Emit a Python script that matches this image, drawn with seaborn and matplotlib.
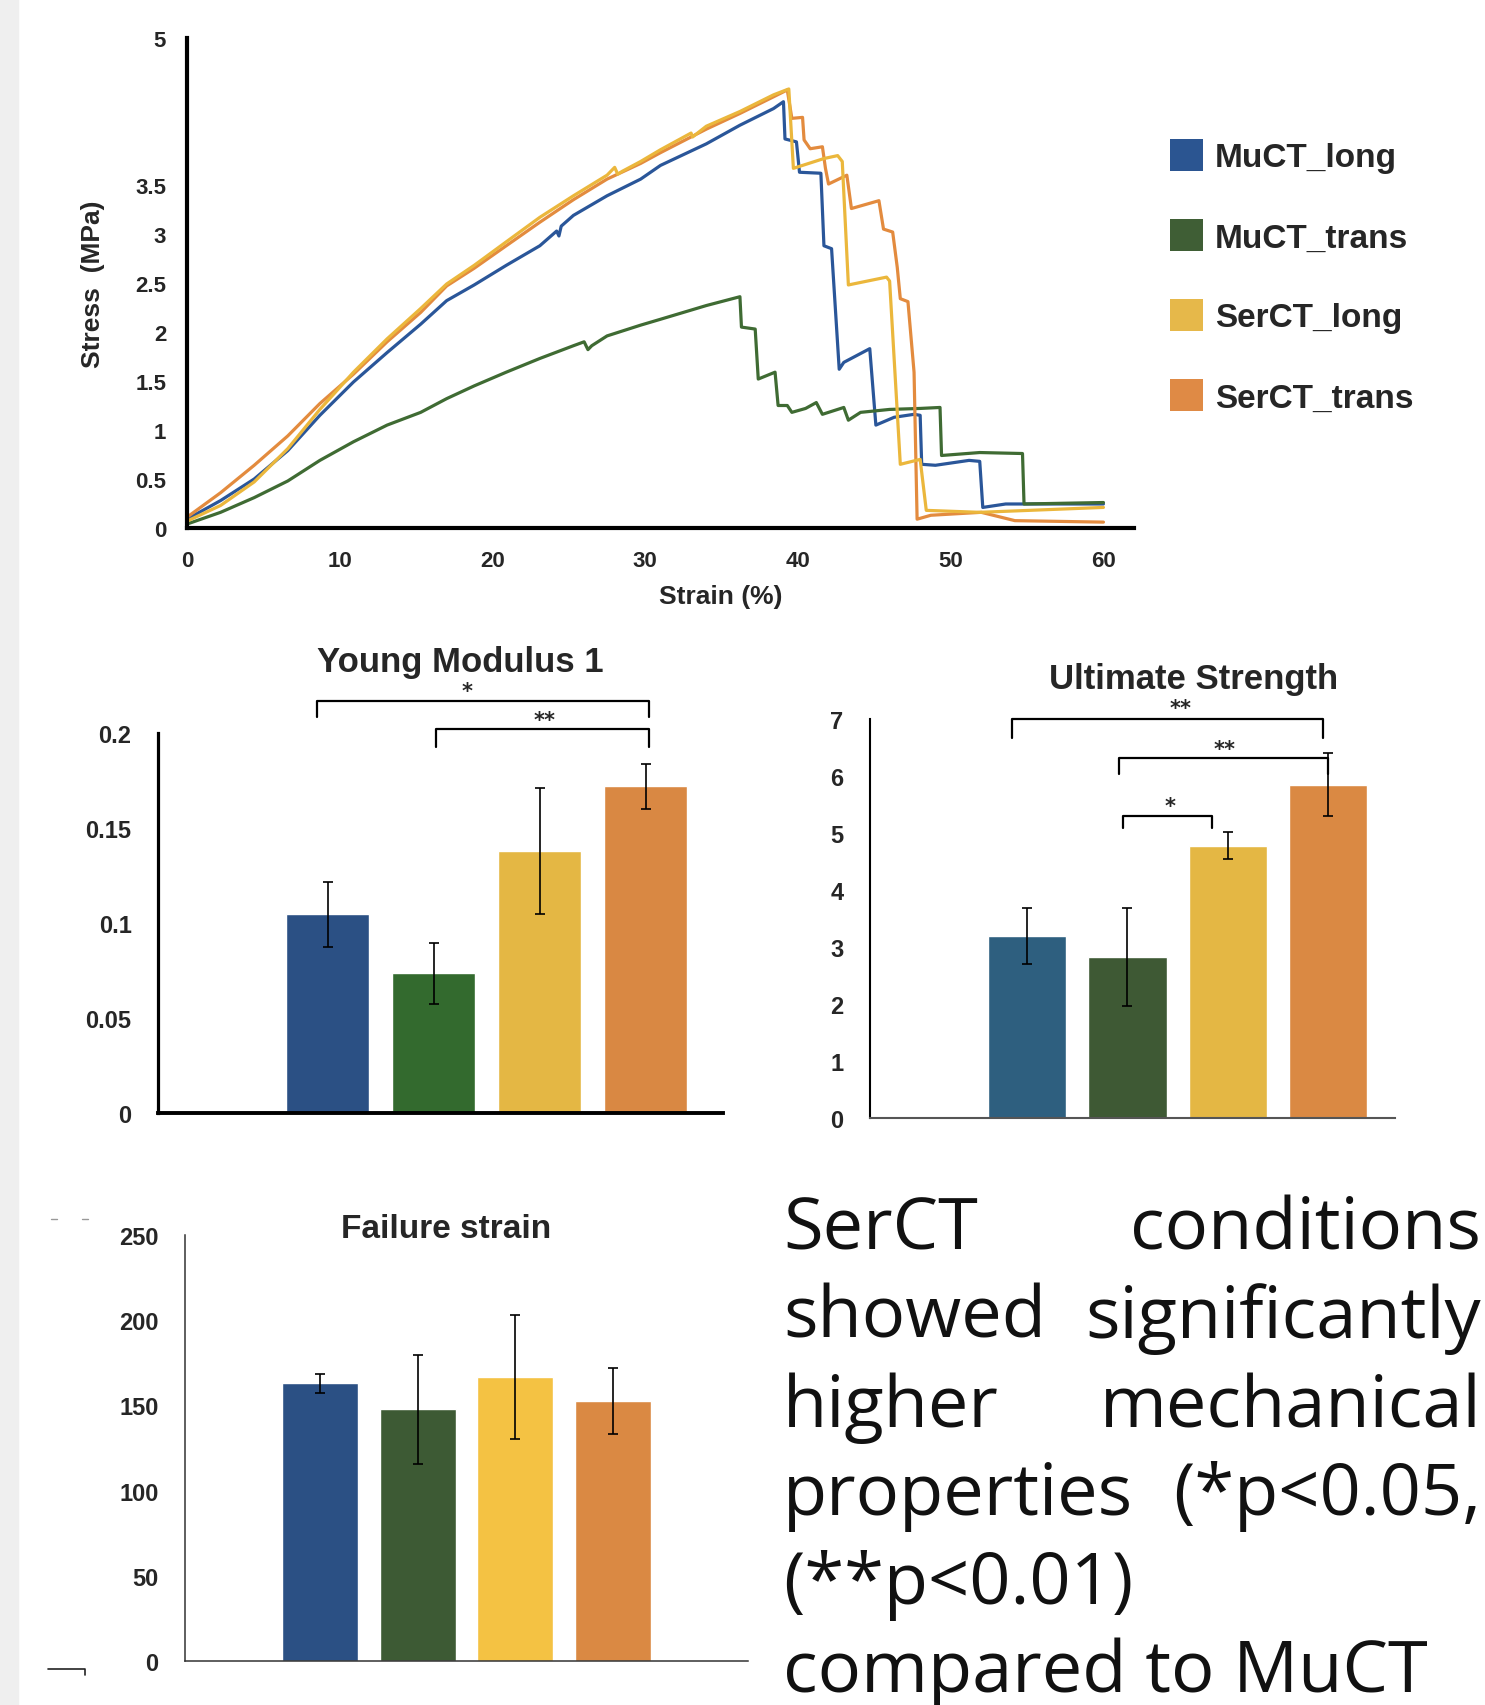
import matplotlib
matplotlib.use("Agg")
import matplotlib.pyplot as plt
import seaborn as sns
from matplotlib.patches import Patch, Rectangle
from matplotlib.lines import Line2D

# stress-strain curves (strain %, stress MPa)
mu_long_x = [0, 2.2, 4.4, 6.6, 8.7, 10.9, 13.1, 15.3, 17.0, 18.8, 20.9, 23.1, 24.2, 24.35, 24.5, 25.3,
             27.5, 29.7, 31.0, 34.0, 36.2, 38.4, 39.05, 39.15, 39.9, 40.1, 41.5, 41.7, 42.2, 42.7, 43.0,
             44.7, 45.1, 46.3, 47.6, 48.0, 48.1, 49.0, 51.2, 51.9, 52.1, 53.6, 60.0]
mu_long_y = [0.09, 0.28, 0.50, 0.79, 1.15, 1.49, 1.79, 2.08, 2.32, 2.48, 2.68, 2.88, 3.03, 2.98, 3.08, 3.19,
             3.39, 3.56, 3.70, 3.92, 4.11, 4.28, 4.35, 3.97, 3.94, 3.63, 3.62, 2.88, 2.85, 1.62, 1.69,
             1.83, 1.05, 1.13, 1.16, 1.15, 0.65, 0.64, 0.69, 0.68, 0.21, 0.245, 0.245]

mu_trans_x = [0, 2.2, 4.4, 6.6, 8.7, 10.9, 13.1, 15.3, 17.0, 18.8, 20.9, 23.1, 25.3, 26.0, 26.25, 26.5,
              27.5, 29.7, 31.0, 34.0, 36.2, 36.3, 37.2, 37.4, 38.5, 38.7, 39.3, 39.6, 40.5, 41.2, 41.6,
              43.0, 43.3, 44.1, 46.0, 48.0, 49.3, 49.4, 51.9, 54.7, 54.8, 60.0]
mu_trans_y = [0.04, 0.16, 0.31, 0.48, 0.69, 0.88, 1.05, 1.18, 1.32, 1.45, 1.59, 1.73, 1.86, 1.90, 1.82, 1.86,
              1.96, 2.07, 2.13, 2.27, 2.36, 2.05, 2.03, 1.52, 1.59, 1.25, 1.25, 1.18, 1.22, 1.28, 1.16,
              1.23, 1.10, 1.18, 1.21, 1.22, 1.23, 0.74, 0.77, 0.76, 0.245, 0.26]

ser_long_x = [0, 2.2, 4.4, 6.6, 8.7, 10.9, 13.1, 15.3, 17.0, 18.8, 20.9, 23.1, 25.3, 27.5, 28.0, 28.2,
              28.5, 29.7, 31.0, 33.0, 33.1, 34.0, 36.2, 38.4, 39.4, 39.7, 41.7, 42.6, 42.9, 43.3, 45.8,
              46.0, 46.7, 48.0, 48.4, 51.9, 60.0]
ser_long_y = [0.07, 0.23, 0.47, 0.81, 1.21, 1.59, 1.93, 2.24, 2.49, 2.68, 2.92, 3.17, 3.39, 3.60, 3.68, 3.61,
              3.64, 3.74, 3.86, 4.03, 3.99, 4.10, 4.25, 4.42, 4.48, 3.67, 3.77, 3.80, 3.74, 2.48, 2.56,
              2.52, 0.65, 0.70, 0.18, 0.16, 0.21]

ser_trans_x = [0, 2.2, 4.4, 6.6, 8.7, 10.9, 13.1, 15.3, 17.0, 18.8, 20.9, 23.1, 25.3, 27.5, 29.7, 31.0,
               34.0, 36.2, 38.4, 39.3, 39.6, 40.3, 40.4, 40.8, 41.6, 41.8, 42.0, 43.2, 43.5, 45.3, 45.6,
               46.2, 46.5, 46.7, 47.2, 47.6, 47.8, 48.7, 52.0, 54.2, 60.0]
ser_trans_y = [0.11, 0.36, 0.64, 0.94, 1.27, 1.57, 1.90, 2.20, 2.47, 2.65, 2.88, 3.12, 3.35, 3.56, 3.72, 3.83,
               4.07, 4.23, 4.40, 4.47, 4.18, 4.19, 3.96, 3.87, 3.89, 3.67, 3.51, 3.60, 3.26, 3.34, 3.05,
               3.02, 2.66, 2.34, 2.31, 1.59, 0.09, 0.13, 0.16, 0.075, 0.06]

series_names = ["MuCT_long", "MuCT_trans", "SerCT_long", "SerCT_trans"]
line_colors = ["#2a5699", "#3f6b33", "#ebb73c", "#e38b3e"]
legend_colors = ["#2b5591", "#3f5e35", "#e6b84a", "#df8a45"]

strain_ticks = [0, 10, 20, 30, 40, 50, 60]
stress_ticks = [0, 0.5, 1, 1.5, 2, 2.5, 3, 3.5, 5]
stress_labels = ["0", "0.5", "1", "1.5", "2", "2.5", "3", "3.5", "5"]

# bar panels
ym_values = [0.1046, 0.0736, 0.1378, 0.1719]
ym_errors = [0.017, 0.016, 0.033, 0.012]
ym_colors = ["#2b5084", "#336a2e", "#e4b744", "#d98843"]
ym_ticks = [0, 0.05, 0.1, 0.15, 0.2]
ym_labels = ["0", "0.05", "0.1", "0.15", "0.2"]

us_values = [3.20, 2.83, 4.78, 5.85]
us_errors = [0.49, 0.86, 0.24, 0.56]
us_colors = ["#2e5f7f", "#3e5934", "#e4b744", "#da8943"]
us_ticks = [0, 1, 2, 3, 4, 5, 6, 7]

fs_values = [163.0, 147.7, 166.7, 152.7]
fs_errors = [5.5, 32.0, 36.5, 19.5]
fs_colors = ["#2b5084", "#3d5a34", "#f4c243", "#da8943"]
fs_ticks = [0, 50, 100, 150, 200, 250]

note_lines = [("SerCT", "conditions"), ("showed", "significantly"), ("higher", "mechanical"),
              ("properties", "(*p<0.05,"), ("(**p<0.01)", None), ("compared to MuCT", None)]

sns.set_style("white")
plt.rcParams["font.family"] = ["Liberation Sans", "DejaVu Sans"]
plt.rcParams["font.weight"] = "bold"

W, H = 1485, 1706
fig = plt.figure(figsize=(W / 100, H / 100), dpi=100)


def box(l, t, r, b):
    return [l / W, 1 - b / H, (r - l) / W, (b - t) / H]


# grey strip on the left edge
fig.add_artist(Rectangle((0, 0), 18 / W, 1, transform=fig.transFigure, color="#efefef", zorder=0))

# ---- stress-strain curves ----
ax = fig.add_axes(box(187, 39, 1134, 529))
curves = [(mu_long_x, mu_long_y), (mu_trans_x, mu_trans_y), (ser_trans_x, ser_trans_y), (ser_long_x, ser_long_y)]
order = [0, 1, 3, 2]
for (xs, ys), i in zip(curves, order):
    sns.lineplot(x=xs, y=ys, ax=ax, color=line_colors[i], linewidth=2.3, sort=False, estimator=None)
ax.set_xlim(0, 62)
ax.set_ylim(0, 5)
ax.set_xticks(strain_ticks)
ax.set_yticks(stress_ticks)
ax.set_yticklabels(stress_labels)
for s in ["top", "right"]:
    ax.spines[s].set_visible(False)
for s in ["left", "bottom"]:
    ax.spines[s].set_linewidth(3)
    ax.spines[s].set_color("black")
ax.tick_params(axis="both", length=0, labelsize=16)
ax.tick_params(axis="y", pad=15)
ax.tick_params(axis="x", pad=16)
ax.set_xlabel("Strain (%)", fontsize=19, fontweight="bold")
ax.set_ylabel("Stress  (MPa)", fontsize=19, fontweight="bold")
ax.xaxis.set_label_coords(0.564, -0.115)
ax.yaxis.set_label_coords(-0.087, 0.5)

handles = [Patch(facecolor=c, edgecolor="none") for c in legend_colors]
fig.legend(handles, series_names, loc="upper left", bbox_to_anchor=(1170 / W, 1 - 140 / H),
           frameon=False, borderpad=0, borderaxespad=0, fontsize=24,
           handlelength=1.0, handleheight=1.1, labelspacing=1.37, handletextpad=0.35)


def bar_panel(rect, values, errors, colors, xlim, ylim, ticks, labels, axis_lw, x_color, y_color):
    a = fig.add_axes(rect)
    sns.barplot(x=series_names, y=values, hue=series_names, palette=colors, saturation=1,
                width=0.78, legend=False, ax=a, errorbar=None)
    a.errorbar(range(4), values, yerr=errors, fmt="none", ecolor="black",
               elinewidth=1.2, capsize=3.5, capthick=1.2, zorder=5)
    a.set_xlim(*xlim)
    a.set_ylim(*ylim)
    a.set_xticks([])
    a.set_yticks(ticks)
    a.set_yticklabels(labels if labels else [str(t) for t in ticks])
    a.set_xlabel("")
    a.set_ylabel("")
    for s in ["top", "right"]:
        a.spines[s].set_visible(False)
    a.spines["left"].set_linewidth(axis_lw[0])
    a.spines["left"].set_color(y_color)
    a.spines["bottom"].set_linewidth(axis_lw[1])
    a.spines["bottom"].set_color(x_color)
    a.tick_params(axis="y", length=0, labelsize=17, pad=19)
    return a


def bracket(a, x0, x1, top, leg, star, sx, sy):
    a.plot([x0, x0, x1, x1], [leg, top, top, leg], color="black", lw=1.6, clip_on=False)
    a.text(sx, sy, star, ha="center", va="center", fontsize=15, fontweight="bold",
           family="DejaVu Sans", clip_on=False)


# ---- Young modulus ----
ax1 = bar_panel(box(158, 734, 723, 1114), ym_values, ym_errors, ym_colors, (-1.6, 3.73), (0, 0.2),
                ym_ticks, ym_labels, (2.3, 2.8), "black", "black")
bracket(ax1, -0.1, 3.03, 0.217, 0.2085, "*", 1.32, 0.2222)
bracket(ax1, 1.02, 3.03, 0.202, 0.1925, "**", 2.05, 0.2068)
fig.text(460 / W, 1 - 672 / H, "Young Modulus 1", ha="center", va="baseline", fontsize=25, fontweight="bold")

# ---- ultimate strength ----
ax2 = bar_panel(box(870, 720, 1395, 1119), us_values, us_errors, us_colors, (-1.57, 3.67), (0, 7),
                us_ticks, None, (1.5, 1.5), "#555555", "black")
bracket(ax2, -0.15, 2.95, 7.0, 6.66, "**", 1.53, 7.2)
bracket(ax2, 0.92, 3.0, 6.32, 6.03, "**", 1.97, 6.47)
bracket(ax2, 0.96, 1.84, 5.29, 5.08, "*", 1.42, 5.48)
fig.text(1194 / W, 1 - 689 / H, "Ultimate Strength", ha="center", va="baseline", fontsize=25, fontweight="bold")

# ---- failure strain ----
ax3 = bar_panel(box(185, 1236, 748, 1662), fs_values, fs_errors, fs_colors, (-1.38, 4.38), (0, 250),
                fs_ticks, None, (1.1, 1.1), "#333333", "#333333")
fig.text(446 / W, 1 - 1238 / H, "Failure strain", ha="center", va="baseline", fontsize=24, fontweight="bold")

# small marks left over from the source layout
fig.add_artist(Line2D([48 / W, 85 / W, 85 / W], [1 - 1670 / H, 1 - 1670 / H, 1 - 1676 / H],
                      transform=fig.transFigure, color="#222222", lw=1.2))
for x0 in (51, 82):
    fig.add_artist(Line2D([x0 / W, (x0 + 6) / W], [1 - 1220 / H, 1 - 1220 / H],
                          transform=fig.transFigure, color="#999999", lw=1))

# ---- justified note ----
left_x, right_x = 783 / W, 1481 / W
baselines = [1249, 1338, 1427, 1515, 1604, 1692]
for (first, last), yb in zip(note_lines, baselines):
    y = 1 - yb / H
    fig.text(left_x, y, first, ha="left", va="baseline", fontsize=52, fontweight="normal",
             family=["Open Sans", "DejaVu Sans"], color="#111111")
    if last:
        fig.text(right_x, y, last, ha="right", va="baseline", fontsize=52, fontweight="normal",
                 family=["Open Sans", "DejaVu Sans"], color="#111111")

fig.savefig("out.png", dpi=100, facecolor="white")
